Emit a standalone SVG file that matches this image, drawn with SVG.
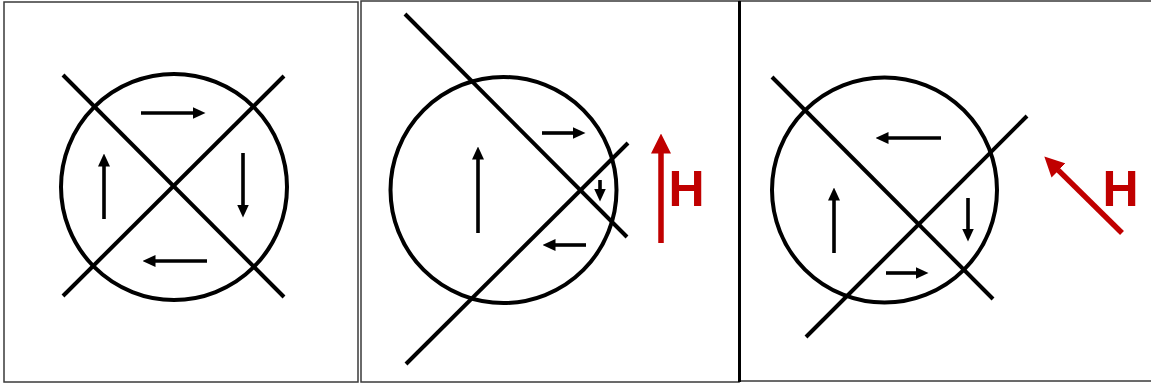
<svg xmlns="http://www.w3.org/2000/svg" width="1151" height="385" viewBox="0 0 1151 385">
<defs>
<style>
.frame{fill:#fff;stroke:#3a3a3a;stroke-width:1.5}
.ln{stroke:#000;stroke-width:4;fill:none}
.ci{stroke:#000;stroke-width:4;fill:none}
.ar{stroke:#000;stroke-width:3.6;fill:none;marker-end:url(#ah)}
.rar{stroke:#c00000;stroke-width:5.5;fill:none;marker-end:url(#rah)}
.h{font-family:"Liberation Sans",Arial,sans-serif;font-weight:bold;font-size:50px;fill:#c00000}
</style>
<marker id="ah" markerUnits="userSpaceOnUse" viewBox="0 0 13 12" markerWidth="13" markerHeight="12" refX="0.5" refY="6" orient="auto">
<path d="M0,0 L13,6 L0,12 z" fill="#000"/>
</marker>
<marker id="rah" markerUnits="userSpaceOnUse" viewBox="0 0 20 20" markerWidth="20" markerHeight="20" refX="0.5" refY="10" orient="auto">
<path d="M0,0 L20,10 L0,20 z" fill="#c00000"/>
</marker>
</defs>
<rect width="1151" height="385" fill="#fff"/>

<g id="panel1">
<rect class="frame" x="4" y="2" width="354" height="380"/>
<circle class="ci" cx="174" cy="187" r="113"/>
<line class="ln" x1="63" y1="75" x2="284" y2="297"/>
<line class="ln" x1="284" y1="76" x2="63" y2="296"/>
<line class="ar" x1="141" y1="113" x2="193" y2="113"/>
<line class="ar" x1="243" y1="153" x2="243" y2="205"/>
<line class="ar" x1="207" y1="261" x2="155" y2="261"/>
<line class="ar" x1="104" y1="219" x2="104" y2="166"/>
</g>

<g id="panel2">
<rect class="frame" x="361" y="1" width="378" height="381"/>
<circle class="ci" cx="503.5" cy="190" r="113"/>
<line class="ln" x1="405" y1="14" x2="627" y2="237"/>
<line class="ln" x1="628" y1="143" x2="406" y2="364"/>
<line class="ar" x1="542" y1="133" x2="573" y2="133"/>
<line class="ar" x1="478" y1="233" x2="478" y2="159"/>
<line class="ar" x1="600" y1="180" x2="600" y2="189"/>
<line class="ar" x1="586" y1="245" x2="555" y2="245"/>
<line class="rar" x1="661" y1="243" x2="661" y2="153"/>
<text class="h" x="668.5" y="206">H</text>
</g>

<g id="panel3">
<rect class="frame" x="740" y="1" width="412" height="380"/>
<line x1="739.5" y1="1" x2="739.5" y2="382" stroke="#000" stroke-width="3"/>
<circle class="ci" cx="884.5" cy="190" r="112.5"/>
<line class="ln" x1="772" y1="77" x2="993" y2="299"/>
<line class="ln" x1="1027" y1="116" x2="806" y2="337"/>
<line class="ar" x1="941" y1="138" x2="888" y2="138"/>
<line class="ar" x1="834" y1="253" x2="834" y2="200"/>
<line class="ar" x1="968" y1="198" x2="968" y2="229"/>
<line class="ar" x1="886" y1="273" x2="916" y2="273"/>
<line class="rar" x1="1122" y1="233" x2="1058.2" y2="170.1"/>
<text class="h" x="1102.5" y="206">H</text>
</g>
</svg>
